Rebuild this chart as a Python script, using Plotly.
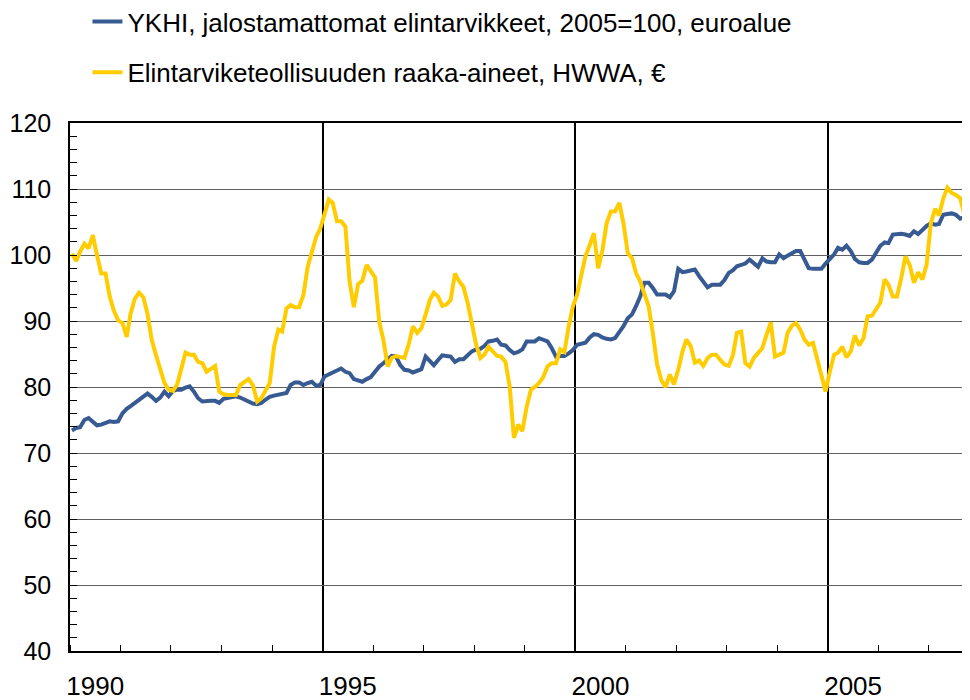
import pandas as pd
import plotly.graph_objects as go

# Monthly data, Jan 1990 - Sep 2007 (one row per year)
ykhi = [
    73.4, 73.8, 73.9, 75.0, 75.3, 74.7, 74.2, 74.3, 74.6, 74.8, 74.7, 74.8,
    76.0, 76.7, 77.1, 77.6, 77.9, 78.5, 79.0, 78.5, 77.9, 78.4, 79.3, 78.6,
    79.4, 79.6, 79.6, 79.9, 80.1, 79.3, 78.3, 77.8, 77.9, 77.9, 77.9, 77.6,
    78.2, 78.3, 78.5, 78.6, 78.4, 78.1, 77.9, 77.5, 77.4, 77.6, 78.1, 78.5,
    78.7, 78.8, 78.9, 79.1, 80.3, 80.7, 80.7, 80.3, 80.6, 80.8, 80.2, 80.3,
    81.6, 82.0, 82.2, 82.5, 82.8, 82.3, 82.1, 81.2, 81.0, 80.8, 81.2, 81.5,
    82.3, 83.1, 83.6, 84.1, 84.7, 84.6, 83.3, 82.6, 82.5, 82.2, 82.4, 82.7,
    84.6, 83.8, 83.3, 84.1, 84.8, 84.7, 84.6, 83.8, 84.2, 84.2, 84.9, 85.4,
    85.7, 85.8, 86.2, 86.9, 87.0, 87.2, 86.4, 86.3, 85.6, 85.1, 85.3, 85.7,
    86.9, 86.9, 86.9, 87.4, 87.2, 86.9, 85.9, 84.6, 84.7, 84.7, 85.1, 85.6,
    86.4, 86.6, 86.7, 87.5, 88.0, 87.9, 87.5, 87.3, 87.2, 87.4, 88.2, 89.2,
    90.4, 91.0, 92.2, 93.7, 95.8, 95.8, 95.0, 94.0, 94.0, 94.0, 93.6, 94.5,
    97.9, 97.4, 97.5, 97.6, 97.8, 96.8, 95.9, 95.1, 95.5, 95.5, 95.5, 96.2,
    97.3, 97.7, 98.3, 98.5, 98.7, 99.3, 98.7, 98.2, 99.5, 99.0, 98.9, 98.9,
    100.1, 99.5, 99.9, 100.3, 100.6, 100.6, 99.3, 98.0, 97.9, 97.9, 97.9, 98.7,
    99.4, 100.1, 101.1, 100.8, 101.4, 100.6, 99.4, 98.9, 98.8, 98.8, 99.3, 100.4,
    101.4, 101.9, 101.8, 103.1, 103.2, 103.2, 103.1, 102.9, 103.6, 103.2, 103.8, 104.4,
    104.8, 104.6, 104.7, 106.1, 106.2, 106.3, 106.1, 105.5, 105.8,
]

hwwa = [
    100.2, 99.1, 100.5, 101.7, 101.0, 103.0, 100.0, 97.2, 97.2, 93.7, 91.5, 90.1,
    89.7, 87.6, 91.1, 93.4, 94.3, 93.6, 91.1, 87.1, 84.8, 82.6, 80.6, 79.6,
    79.4, 80.4, 82.7, 85.2, 84.9, 84.9, 83.8, 83.6, 82.3, 82.7, 83.2, 79.3,
    78.9, 78.8, 78.8, 78.8, 80.3, 80.8, 81.2, 80.3, 77.8, 78.3, 79.6, 80.6,
    86.1, 88.7, 88.4, 91.9, 92.4, 92.1, 92.1, 93.9, 98.2, 100.7, 102.7, 104.0,
    106.3, 108.4, 107.9, 105.1, 105.1, 104.3, 96.0, 92.1, 95.6, 96.1, 98.5, 97.5,
    96.6, 89.8, 87.2, 83.1, 84.4, 84.7, 84.6, 84.4, 86.5, 89.2, 88.2, 88.9,
    91.0, 93.2, 94.3, 93.7, 92.3, 92.5, 93.2, 97.2, 96.0, 95.2, 92.7, 89.9,
    86.4, 84.4, 84.9, 86.1, 85.4, 84.7, 84.6, 83.8, 80.0, 72.3, 74.3, 73.3,
    77.0, 79.6, 80.0, 80.6, 81.5, 83.1, 83.6, 83.6, 85.7, 85.3, 89.2, 92.2,
    94.0, 96.8, 99.8, 101.5, 103.3, 98.0, 100.6, 104.8, 106.6, 106.6, 107.9, 104.8,
    100.3, 99.5, 97.3, 96.0, 94.2, 92.2, 88.2, 83.4, 81.0, 80.0, 81.9, 80.4,
    82.6, 85.4, 87.2, 86.2, 83.7, 84.0, 83.2, 84.4, 84.9, 84.9, 84.1, 83.4,
    83.2, 84.9, 88.2, 88.4, 83.6, 83.1, 84.4, 85.2, 85.9, 87.9, 89.8, 84.6,
    84.9, 85.2, 88.2, 89.3, 89.7, 88.7, 87.2, 86.4, 86.7, 84.1, 81.9, 79.3,
    82.4, 84.9, 85.2, 86.1, 84.5, 85.4, 87.8, 86.3, 87.4, 90.7, 90.8, 91.7,
    92.8, 96.3, 95.5, 93.7, 93.7, 96.5, 99.8, 98.5, 95.8, 97.4, 96.3, 98.5,
    104.8, 107.0, 106.0, 108.6, 110.2, 109.4, 109.1, 108.6, 106.1,
]

series_names = [
    "YKHI, jalostamattomat elintarvikkeet, 2005=100, euroalue",
    "Elintarviketeollisuuden raaka-aineet, HWWA, €",
]
year_labels = ["1990", "1995", "2000", "2005"]
grid_years = ["1995", "2000", "2005"]

dates = pd.date_range("1990-01-01", periods=len(ykhi), freq="MS") + pd.Timedelta(days=14)

FONT = "Liberation Sans, Arial, sans-serif"
BLUE = "#375A92"
YELLOW = "#FFCC00"
x_range = ["1990-01-01", "2007-10-25"]

fig = go.Figure()
fig.add_trace(go.Scatter(x=dates, y=ykhi, mode="lines", name=series_names[0],
                         legendgroup="a", line=dict(color=BLUE, width=4)))
fig.add_trace(go.Scatter(x=dates, y=hwwa, mode="lines", name=series_names[1],
                         legendgroup="b", line=dict(color=YELLOW, width=4)))

# the page body adds an 8px offset, so the figure is sized 962x692
fig.update_layout(
    width=962, height=692,
    margin=dict(l=62, r=0, t=115, b=49, autoexpand=False),
    paper_bgcolor="white", plot_bgcolor="white",
    font=dict(family=FONT, color="black", size=25),
    showlegend=True,
    legend=dict(
        xref="paper", yref="paper", x=0.0194, y=1.2367,
        xanchor="left", yanchor="top",
        font=dict(size=26, family=FONT, color="black"),
        tracegroupgap=14, itemwidth=30, bgcolor="rgba(0,0,0,0)",
        traceorder="grouped",
    ),
    xaxis=dict(
        type="date", range=x_range,
        tickmode="array", tickvals=[f"{y}-01-01" for y in grid_years],
        showticklabels=False, ticks="",
        showgrid=True, gridcolor="black", gridwidth=1.5,
        showline=True, linecolor="black", linewidth=2, mirror=True,
        zeroline=False,
        minor=dict(tickmode="linear", tick0="1990-01-01", dtick="M12",
                   ticks="inside", ticklen=6, tickcolor="black", tickwidth=1,
                   showgrid=False),
    ),
    xaxis2=dict(
        type="date", range=x_range, overlaying="x", anchor="y", side="bottom",
        tickmode="array", tickvals=[f"{y}-07-02" for y in year_labels],
        ticktext=year_labels, tickangle=0,
        ticks="outside", ticklen=12, tickcolor="rgba(0,0,0,0)",
        showgrid=False, showline=False, zeroline=False,
        tickfont=dict(size=26, family=FONT, color="black"),
    ),
    yaxis=dict(
        range=[40, 120], tickmode="linear", tick0=40, dtick=10,
        showgrid=True, gridcolor="#606060", gridwidth=1,
        ticks="inside", ticklen=7, tickcolor="black",
        showline=True, linecolor="black", linewidth=1.5,
        zeroline=False, ticklabelstandoff=12,
        tickfont=dict(size=25, family=FONT, color="black"),
        minor=dict(tickmode="linear", tick0=40, dtick=2, ticks="inside",
                   ticklen=7, tickcolor="black", showgrid=False),
    ),
)

# invisible helper trace so the label axis is rendered
fig.add_trace(go.Scatter(x=[dates[0]], y=[None], xaxis="x2", showlegend=False,
                         hoverinfo="skip", mode="lines"))

fig.write_html("out.html")
